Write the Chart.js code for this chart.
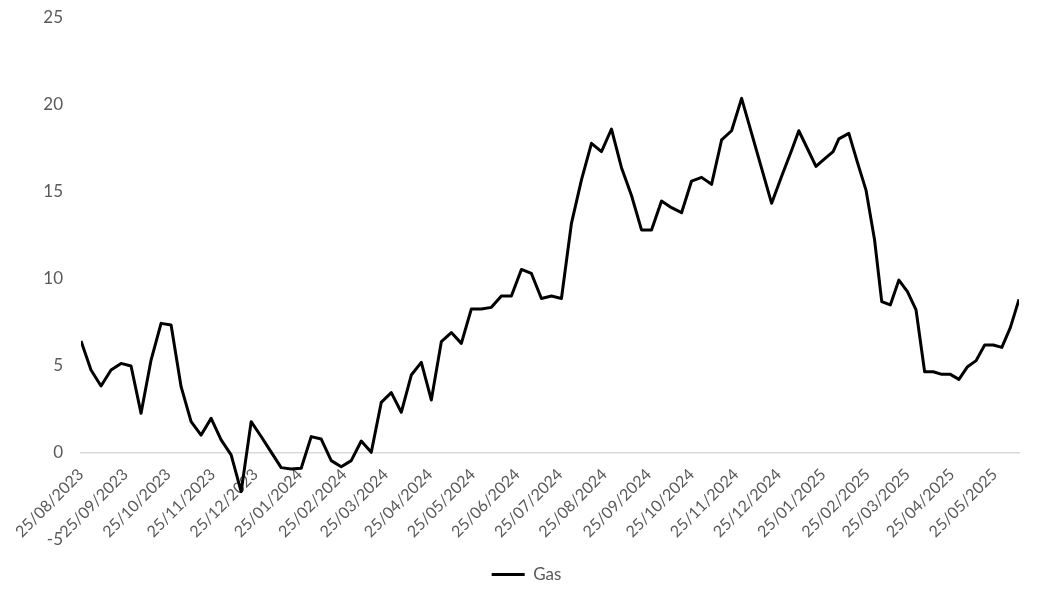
<!DOCTYPE html>
<html>
<head>
<meta charset="utf-8">
<title>Gas</title>
<script src="https://cdn.jsdelivr.net/npm/chart.js@4.4.1/dist/chart.umd.min.js"></script>
<style>
  html, body { margin: 0; padding: 0; background: #fff; }
  #wrap { width: 1053px; height: 601px; position: relative; }
</style>
</head>
<body>
<div id="wrap"><canvas id="gasChart"></canvas></div>
<script>
// monthly labels on the date axis
const tickLabels = [
  '25/08/2023', '25/09/2023', '25/10/2023', '25/11/2023', '25/12/2023',
  '25/01/2024', '25/02/2024', '25/03/2024', '25/04/2024', '25/05/2024',
  '25/06/2024', '25/07/2024', '25/08/2024', '25/09/2024', '25/10/2024',
  '25/11/2024', '25/12/2024', '25/01/2025', '25/02/2025', '25/03/2025',
  '25/04/2025', '25/05/2025',
];

// observation dates
const dates = [
  '25/08/2023', '01/09/2023', '08/09/2023', '15/09/2023', '22/09/2023', '29/09/2023',
  '06/10/2023', '13/10/2023', '20/10/2023', '27/10/2023', '03/11/2023', '10/11/2023',
  '17/11/2023', '24/11/2023', '01/12/2023', '08/12/2023', '15/12/2023', '22/12/2023',
  '29/12/2023', '05/01/2024', '12/01/2024', '19/01/2024', '26/01/2024', '02/02/2024',
  '09/02/2024', '16/02/2024', '23/02/2024', '01/03/2024', '08/03/2024', '15/03/2024',
  '22/03/2024', '29/03/2024', '05/04/2024', '12/04/2024', '19/04/2024', '26/04/2024',
  '03/05/2024', '10/05/2024', '17/05/2024', '24/05/2024', '31/05/2024', '07/06/2024',
  '14/06/2024', '21/06/2024', '28/06/2024', '05/07/2024', '12/07/2024', '19/07/2024',
  '26/07/2024', '02/08/2024', '09/08/2024', '16/08/2024', '23/08/2024', '30/08/2024',
  '06/09/2024', '13/09/2024', '20/09/2024', '27/09/2024', '04/10/2024', '11/10/2024',
  '18/10/2024', '25/10/2024', '01/11/2024', '08/11/2024', '15/11/2024', '22/11/2024',
  '29/11/2024', '06/12/2024', '13/12/2024', '20/12/2024', '27/12/2024', '03/01/2025',
  '08/01/2025', '14/01/2025', '20/01/2025', '26/01/2025', '01/02/2025', '05/02/2025',
  '12/02/2025', '18/02/2025', '24/02/2025', '02/03/2025', '07/03/2025', '13/03/2025',
  '19/03/2025', '25/03/2025', '31/03/2025', '06/04/2025', '12/04/2025', '18/04/2025',
  '24/04/2025', '30/04/2025', '06/05/2025', '12/05/2025', '18/05/2025', '24/05/2025',
  '30/05/2025', '05/06/2025', '11/06/2025',
];

const gas = [
  6.44, 4.77, 3.85, 4.77, 5.15, 5.0,
  2.28, 5.34, 7.45, 7.36, 3.81, 1.8,
  1.03, 1.99, 0.75, -0.11, -2.22, 1.8,
  0.95, 0.05, -0.84, -0.92, -0.88, 0.94,
  0.8, -0.44, -0.79, -0.44, 0.69, 0.04,
  2.91, 3.47, 2.34, 4.48, 5.21, 3.05,
  6.4, 6.92, 6.3, 8.28, 8.28, 8.37,
  9.02, 9.02, 10.55, 10.32, 8.88, 9.02,
  8.88, 13.2, 15.7, 17.8, 17.32, 18.62,
  16.4, 14.8, 12.82, 12.82, 14.48, 14.1,
  13.81, 15.63, 15.84, 15.44, 17.99, 18.52,
  20.38, 18.37, 16.36, 14.35, 15.9, 17.4,
  18.52, 17.5, 16.47, 16.9, 17.32, 18.05,
  18.37, 16.7, 15.11, 12.24, 8.7, 8.51,
  9.94, 9.27, 8.22, 4.67, 4.67, 4.52,
  4.52, 4.23, 4.96, 5.31, 6.21, 6.21,
  6.07, 7.22, 8.83,
];

const yTicks = [-5, 0, 5, 10, 15, 20, 25];

const textColor = '#595959';
const fontFamily = 'Lato, "Open Sans", sans-serif';

// days since the first observation
function dayNumber(str) {
  const [d, m, y] = str.split('/').map(Number);
  return Date.UTC(y, m - 1, d) / 86400000;
}
const day0 = dayNumber(dates[0]);
const tickDays = tickLabels.map(s => dayNumber(s) - day0);
const points = dates.map((s, i) => ({ x: dayNumber(s) - day0, y: gas[i] }));

const ctx = document.getElementById('gasChart').getContext('2d');
new Chart(ctx, {
  type: 'line',
  data: {
    datasets: [{
      label: 'Gas',
      data: points,
      borderColor: '#000000',
      backgroundColor: '#000000',
      borderWidth: 3,
      borderJoinStyle: 'round',
      pointRadius: 0,
      pointHoverRadius: 0,
      tension: 0,
      fill: false,
    }],
  },
  options: {
    responsive: true,
    maintainAspectRatio: false,
    animation: false,
    layout: {
      padding: { left: 0, right: 0, top: 18, bottom: 8 },
    },
    scales: {
      x: {
        type: 'linear',
        position: { y: 0 },
        min: 0,
        max: dayNumber(dates[dates.length - 1]) - day0,
        grid: { display: false, drawTicks: false },
        border: { display: true, color: '#d9d9d9', width: 1.5 },
        afterBuildTicks: scale => {
          scale.ticks = tickDays.map(v => ({ value: v }));
        },
        ticks: {
          autoSkip: false,
          minRotation: 45,
          maxRotation: 45,
          padding: 12,
          color: textColor,
          font: { family: fontFamily, size: 16 },
          callback: (value, index) => tickLabels[index],
        },
      },
      y: {
        min: -5,
        max: 25,
        grid: { display: false, drawTicks: false },
        border: { display: false },
        afterBuildTicks: scale => {
          scale.ticks = yTicks.map(v => ({ value: v }));
        },
        afterFit: scale => {
          scale.width = 81;
          scale.paddingTop = 0;
          scale.paddingBottom = 0;
        },
        ticks: {
          padding: 18,
          color: textColor,
          font: { family: fontFamily, size: 17 },
        },
      },
      // empty right margin, keeps the full-width legend centred on the page
      yRight: {
        position: 'right',
        min: -5,
        max: 25,
        grid: { display: false, drawTicks: false },
        border: { display: false },
        ticks: { display: false },
        afterFit: scale => {
          scale.width = 34;
          scale.paddingTop = 0;
          scale.paddingBottom = 0;
        },
      },
    },
    plugins: {
      legend: {
        display: true,
        position: 'bottom',
        labels: {
          usePointStyle: true,
          pointStyle: 'line',
          pointStyleWidth: 33,
          padding: 26,
          color: textColor,
          font: { family: fontFamily, size: 17 },
        },
      },
      tooltip: { enabled: false },
    },
  },
});
</script>
</body>
</html>
